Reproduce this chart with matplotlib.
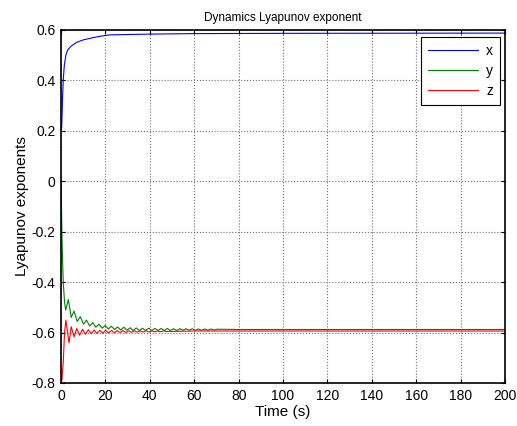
import numpy as np
import matplotlib.pyplot as plt

plt.rcParams['font.family'] = ['Liberation Sans', 'DejaVu Sans']
plt.rcParams['axes.unicode_minus'] = False

# x exponent (blue)
t_x = [0.0, 0.3, 0.7, 1.0, 1.5, 2.2, 3.0, 4.5, 7.0, 10.0, 14.0, 18.0, 22.0, 40.0, 60.0, 100.0, 200.0]
v_x = [0.20, 0.21, 0.33, 0.40, 0.46, 0.50, 0.52, 0.535, 0.55, 0.56, 0.568, 0.575, 0.580, 0.583, 0.585, 0.586, 0.587]

# y exponent (green), read at turning points
t_y = [0.0, 0.5, 1.0, 1.6, 2.1, 3.3, 4.6, 5.9, 7.3, 8.7, 10.1, 11.5, 12.9, 14.3, 15.7, 17.1,
       18.5, 19.9, 21.3, 22.7, 24.1, 25.5, 26.9, 28.3, 29.7, 31.1, 32.5, 33.9, 35.3, 36.7,
       38.1, 39.5, 40.9, 42.3, 43.7, 45.1, 46.5, 47.9, 49.3, 50.7, 52.1, 53.5, 54.9, 56.3,
       57.7, 59.1, 60.5, 61.9, 63.3, 64.7, 66.1, 67.5, 68.9, 70.3, 80.0, 200.0]
v_y = [0.0, -0.25, -0.40, -0.48, -0.511, -0.469, -0.540, -0.515, -0.556, -0.537, -0.567, -0.551,
       -0.574, -0.561, -0.579, -0.567, -0.583, -0.572, -0.586, -0.575, -0.588, -0.578, -0.590,
       -0.579, -0.591, -0.581, -0.592, -0.582, -0.592, -0.583, -0.592, -0.583, -0.592, -0.584,
       -0.592, -0.584, -0.592, -0.584, -0.592, -0.585, -0.592, -0.585, -0.591, -0.585, -0.591,
       -0.585, -0.591, -0.586, -0.591, -0.586, -0.591, -0.586, -0.590, -0.587, -0.588, -0.588]

# z exponent (red)
t_z = [0.0, 0.4, 1.0, 1.6, 2.2, 3.6, 4.6, 5.9, 7.1, 8.4, 9.7, 11.0, 12.3, 13.6, 14.9, 16.2,
       17.5, 18.8, 20.1, 21.4, 22.7, 24.0, 25.3, 26.6, 27.9, 29.2, 30.5, 31.8, 33.1, 34.4,
       35.7, 37.0, 38.3, 39.6, 40.9, 42.2, 43.5, 44.8, 46.1, 47.4, 60.0, 200.0]
v_z = [-0.78, -0.789, -0.72, -0.60, -0.551, -0.641, -0.577, -0.617, -0.584, -0.611, -0.587,
       -0.607, -0.589, -0.605, -0.590, -0.604, -0.591, -0.603, -0.591, -0.602, -0.592, -0.601,
       -0.592, -0.600, -0.592, -0.600, -0.593, -0.599, -0.593, -0.599, -0.593, -0.598, -0.593,
       -0.598, -0.594, -0.597, -0.594, -0.597, -0.594, -0.596, -0.594, -0.594]

fig = plt.figure(figsize=(5.17, 4.26), dpi=100)
ax = fig.add_axes([0.118, 0.101, 0.859, 0.829])

ax.plot(t_x, v_x, color='#0000ff', lw=0.8, label='x')
ax.plot(t_y, v_y, color='#008000', lw=0.8, label='y')
ax.plot(t_z, v_z, color='#ff0000', lw=0.8, label='z')

ax.set_xlim(0, 200)
ax.set_ylim(-0.8, 0.6)
ax.set_xticks(np.arange(0, 201, 20))
ax.set_yticks([-0.8, -0.6, -0.4, -0.2, 0, 0.2, 0.4, 0.6])
ax.set_yticklabels(['-0.8', '-0.6', '-0.4', '-0.2', '0', '0.2', '0.4', '0.6'])
ax.grid(True, color='#707070', linestyle=':', linewidth=0.8)
ax.tick_params(direction='in', top=True, right=True, labelsize=10, length=3, pad=4)
for s in ax.spines.values():
    s.set_linewidth(1.2)

ax.set_title('Dynamics Lyapunov exponent', fontsize=8.5, pad=6)
ax.set_xlabel('Time (s)', fontsize=11, labelpad=2)
ax.set_ylabel('Lyapunov exponents', fontsize=11, labelpad=2)

leg = ax.legend(loc='upper right', bbox_to_anchor=(0.989, 0.98), fontsize=10,
                fancybox=False, framealpha=1, edgecolor='black', handlelength=3.6,
                borderaxespad=0, labelspacing=0.45, handletextpad=0.6,
                borderpad=0.5)
leg.get_frame().set_linewidth(0.8)

fig.savefig('out.png', dpi=100)
